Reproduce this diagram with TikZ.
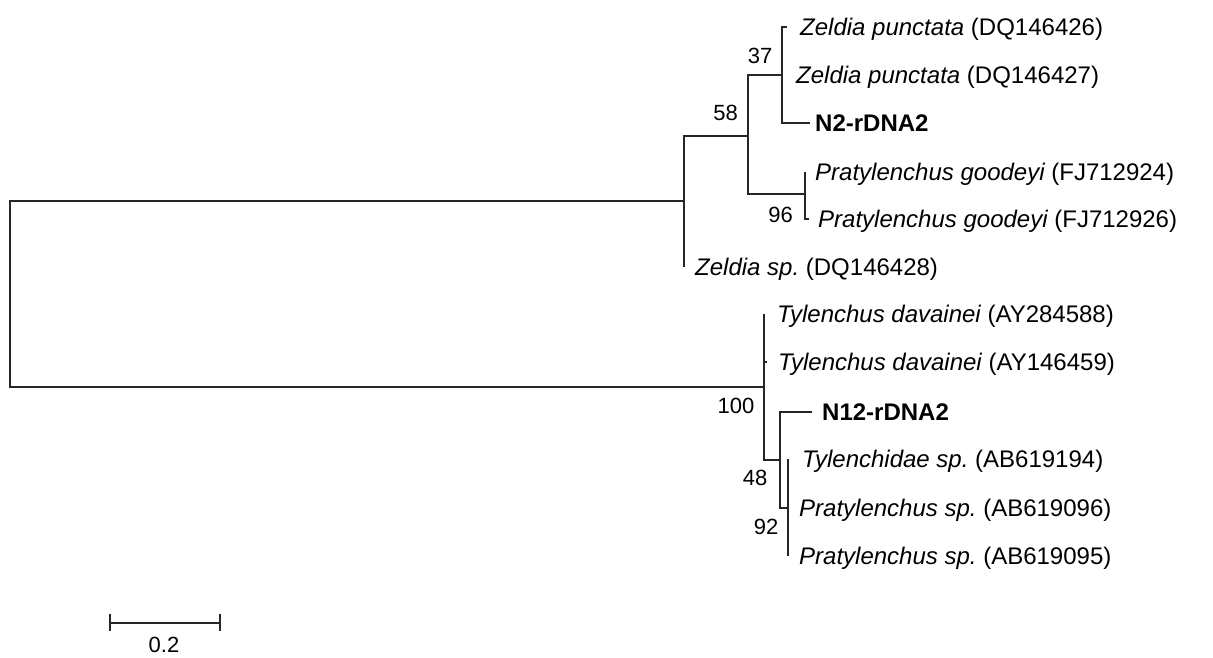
\documentclass[tikz,border=0pt]{standalone}
\usepackage{fontspec}
\setmainfont{Liberation Sans}
\frenchspacing
\begin{document}
\begin{tikzpicture}[x=1pt,y=-1pt,
  branch/.style={line width=1.3pt,black!85},
  taxon/.style={anchor=base west,inner sep=0pt,font=\fontsize{24}{28}\selectfont\frenchspacing},
  boot/.style={anchor=center,inner sep=0pt,font=\fontsize{22}{26}\selectfont}]
\useasboundingbox (0,0) rectangle (1213,658);
% internal nodes
\coordinate (R) at (10,294);
\coordinate (nU) at (684,201);
\coordinate (n58) at (748,136);
\coordinate (n37) at (782,75);
\coordinate (n96) at (805,194);
\coordinate (nL) at (764,387);
\coordinate (n48) at (780,460);
\coordinate (n92) at (788,508);
% tips
\coordinate (tZp1) at (787,27);
\coordinate (tZp2) at (782,75);
\coordinate (tN2) at (810,123);
\coordinate (tPg1) at (805,172);
\coordinate (tPg2) at (809,219);
\coordinate (tZs) at (684,267);
\coordinate (tTd1) at (764,314);
\coordinate (tTd2) at (767,362);
\coordinate (tN12) at (812,412);
\coordinate (tTs) at (788,459);
\coordinate (tPs1) at (788,508);
\coordinate (tPs2) at (788,556);
% branches
\draw[branch] (nU) -| (R) |- (nL);
\draw[branch] (n58) -| (nU) |- (tZs);
\draw[branch] (n37) -| (n58) |- (n96);
\draw[branch] (tZp1) -| (n37) |- (tN2);
\draw[branch] (tPg1) -- (n96) |- (tPg2);
\draw[branch] (tTd1) -- (nL) |- (n48);
\draw[branch] (nL |- tTd2) -- (tTd2);
\draw[branch] (tN12) -| (n48) |- (n92);
\draw[branch] (tTs) -- (tPs2);
% taxon labels
\node[taxon] (lZp1) at (800,35.6) {{\itshape Zeldia punctata} (DQ146426)};
\node[taxon] (lZp2) at (796,83.6) {{\itshape Zeldia punctata} (DQ146427)};
\node[taxon] (lN2) at (815,131.6) {\textbf{N2-rDNA2}};
\node[taxon] (lPg1) at (815,180.6) {{\itshape Pratylenchus goodeyi} (FJ712924)};
\node[taxon] (lPg2) at (818,227.6) {{\itshape Pratylenchus goodeyi} (FJ712926)};
\node[taxon] (lZs) at (695,275.6) {{\itshape Zeldia sp.} (DQ146428)};
\node[taxon] (lTd1) at (777,322.6) {{\itshape Tylenchus davainei} (AY284588)};
\node[taxon] (lTd2) at (778,370.6) {{\itshape Tylenchus davainei} (AY146459)};
\node[taxon] (lN12) at (822,420.6) {\textbf{N12-rDNA2}};
\node[taxon] (lTs) at (802,467.6) {{\itshape Tylenchidae sp.} (AB619194)};
\node[taxon] (lPs1) at (799,516.6) {{\itshape Pratylenchus sp.} (AB619096)};
\node[taxon] (lPs2) at (799,564.6) {{\itshape Pratylenchus sp.} (AB619095)};
% bootstrap values
\node[boot] (b37) at (760,56) {37};
\node[boot] (b58) at (725.5,113) {58};
\node[boot] (b96) at (780.5,215) {96};
\node[boot] (b100) at (736,406) {100};
\node[boot] (b48) at (755,478) {48};
\node[boot] (b92) at (766,527) {92};
% scale bar
\coordinate (sL) at (110,623);
\coordinate (sR) at (220,623);
\draw[branch] (sL) -- (sR);
\draw[branch] ([yshift=-8pt]sL) -- ([yshift=9pt]sL);
\draw[branch] ([yshift=-8pt]sR) -- ([yshift=9pt]sR);
\node[boot] (sc) at (164,645) {0.2};
\end{tikzpicture}
\end{document}
